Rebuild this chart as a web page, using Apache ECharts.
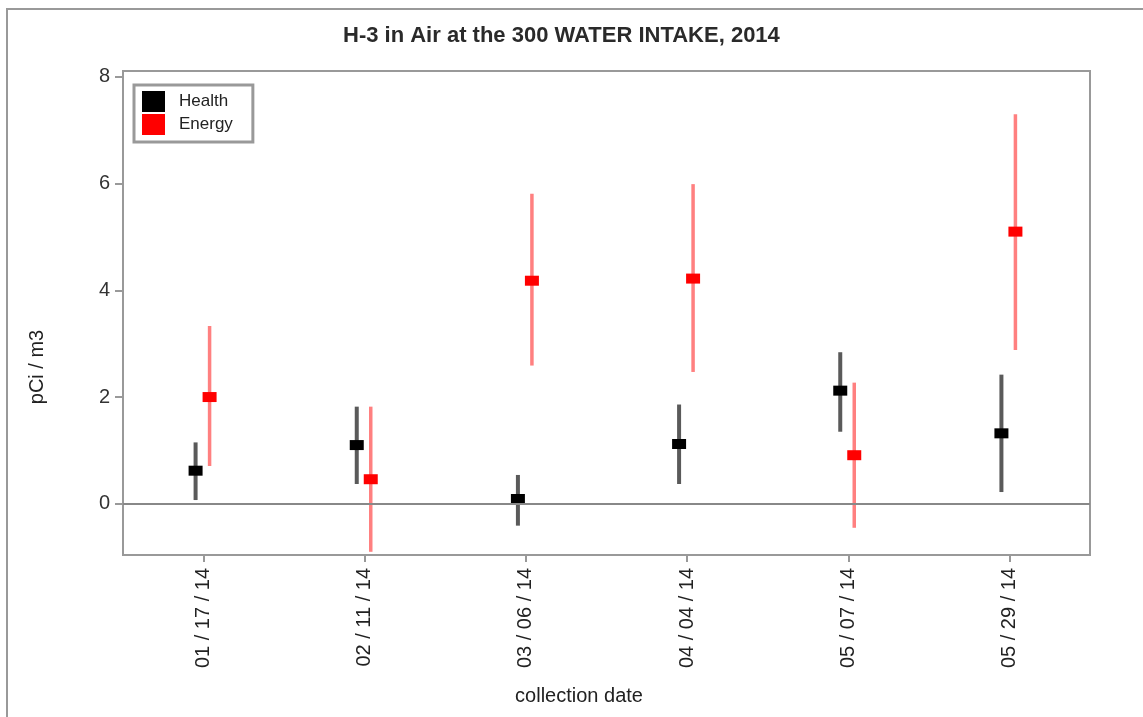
<!DOCTYPE html>
<html><head><meta charset="utf-8">
<script src="https://cdn.jsdelivr.net/npm/echarts@6/dist/echarts.min.js"></script>
<style>html,body{margin:0;padding:0;background:#fff}#c{width:1143px;height:717px}</style>
</head><body><div id="c"></div>
<script>
const categories = ['01 / 17 / 14', '02 / 11 / 14', '03 / 06 / 14', '04 / 04 / 14', '05 / 07 / 14', '05 / 29 / 14'];
const healthValue = [0.62, 1.10, 0.09, 1.12, 2.12, 1.32];
const healthLow   = [0.07, 0.37, -0.41, 0.37, 1.35, 0.22];
const healthHigh  = [1.15, 1.82, 0.54, 1.86, 2.84, 2.42];
const energyValue = [2.00, 0.46, 4.18, 4.22, 0.91, 5.10];
const energyLow   = [0.71, -0.90, 2.59, 2.47, -0.45, 2.88];
const energyHigh  = [3.33, 1.82, 5.81, 5.99, 2.27, 7.30];
const yTicks = [0, 2, 4, 6, 8];

const FONT = 'Liberation Sans, Arial, sans-serif';

function makeData(vals, lows, highs) {
  return vals.map((v, i) => [i, lows[i], highs[i], v]);
}

function makeRender(dx, lineColor, markColor, lineW) {
  return function (params, api) {
    const i = api.value(0);
    const lo = api.coord([i, api.value(1)]);
    const hi = api.coord([i, api.value(2)]);
    const mid = api.coord([i, api.value(3)]);
    const x = lo[0] + dx;
    return {
      type: 'group',
      children: [
        { type: 'line', shape: { x1: x, y1: hi[1], x2: x, y2: lo[1] },
          style: { stroke: lineColor, lineWidth: lineW } },
        { type: 'rect', shape: { x: x - 7, y: mid[1] - 5, width: 14, height: 10 },
          style: { fill: markColor } }
      ]
    };
  };
}

const chart = echarts.init(document.getElementById('c'));
chart.setOption({
  animation: false,
  backgroundColor: '#fff',
  title: {
    text: 'H-3 in Air at the 300 WATER INTAKE, 2014',
    left: 343, top: 25, padding: 0,
    textStyle: { fontFamily: FONT, fontSize: 22, fontWeight: 'bold', color: '#2a2a2a' }
  },
  legend: {
    orient: 'vertical',
    left: 134, top: 85,
    padding: [6, 20, 7, 8],
    itemWidth: 23, itemHeight: 21, itemGap: 2,
    icon: 'rect',
    borderColor: '#999', borderWidth: 3,
    backgroundColor: '#fff',
    textStyle: { fontFamily: FONT, fontSize: 17, color: '#222', padding: [0, 0, 0, 9] },
    data: [
      { name: 'Health', itemStyle: { color: '#000' } },
      { name: 'Energy', itemStyle: { color: '#ff0000' } }
    ]
  },
  grid: {
    left: 123, right: 53, top: 71, bottom: 162,
    show: true, borderColor: '#999', borderWidth: 2
  },
  xAxis: {
    type: 'category',
    data: categories,
    boundaryGap: true,
    axisLine: { show: true, onZero: false, lineStyle: { color: '#999', width: 2 } },
    axisTick: { show: true, alignWithLabel: true, length: 7, lineStyle: { color: '#999', width: 2 } },
    axisLabel: { rotate: 90, margin: 13, fontFamily: FONT, fontSize: 20, color: '#222' },
    splitLine: { show: false }
  },
  yAxis: {
    type: 'value',
    min: -0.96, max: 8.11,
    axisLine: { show: true, lineStyle: { color: '#999', width: 2 } },
    axisTick: { show: true, length: 8, customValues: yTicks, lineStyle: { color: '#999', width: 2 } },
    axisLabel: { customValues: yTicks, margin: 13, fontFamily: FONT, fontSize: 20, color: '#333' },
    splitLine: { show: false }
  },
  graphic: [
    { type: 'rect', shape: { x: 7, y: 9, width: 1200, height: 800 },
      style: { fill: 'none', stroke: '#999', lineWidth: 2 }, silent: true, z: -10 },
    { type: 'text', x: 37, y: 367, rotation: Math.PI / 2,
      style: { text: 'pCi / m3', fontFamily: FONT, fontSize: 20, fill: '#222',
               textAlign: 'center', textVerticalAlign: 'middle' } },
    { type: 'text', x: 579, y: 696,
      style: { text: 'collection date', fontFamily: FONT, fontSize: 20, fill: '#222',
               textAlign: 'center', textVerticalAlign: 'middle' } }
  ],
  series: [
    {
      name: 'Health', type: 'custom',
      itemStyle: { color: '#000' },
      renderItem: makeRender(-8, '#5a5a5a', '#000', 4),
      data: makeData(healthValue, healthLow, healthHigh),
      markLine: {
        silent: true, symbol: 'none', label: { show: false },
        lineStyle: { color: '#888', width: 2, type: 'solid' },
        data: [{ yAxis: 0 }]
      },
      z: 3
    },
    {
      name: 'Energy', type: 'custom',
      itemStyle: { color: '#ff0000' },
      renderItem: makeRender(6, '#ff8080', '#ff0000', 3.5),
      data: makeData(energyValue, energyLow, energyHigh),
      z: 4
    }
  ]
});
</script>
</body></html>
